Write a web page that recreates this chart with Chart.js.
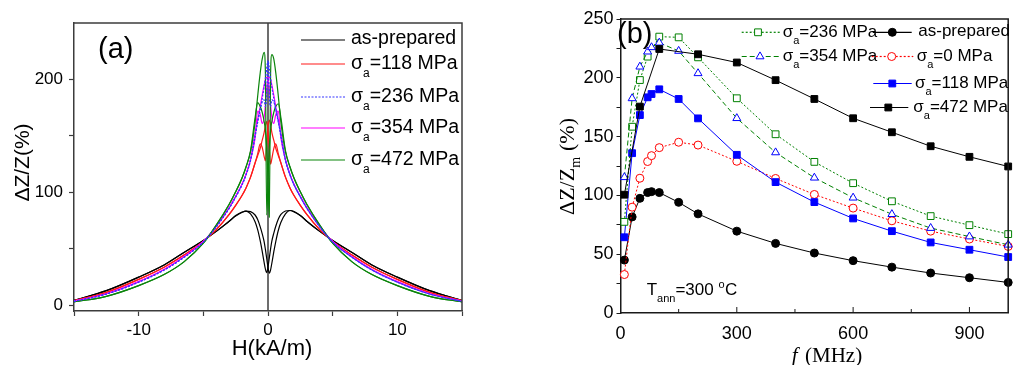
<!DOCTYPE html>
<html>
<head>
<meta charset="utf-8">
<title>GMI ratio</title>
<script src="https://cdn.jsdelivr.net/npm/chart.js@4.4.1/dist/chart.umd.min.js"></script>
<style>
  html, body { margin: 0; padding: 0; background: #fff; }
  #wrap { position: relative; width: 1014px; height: 365px; overflow: hidden; }
  #chartA { position: absolute; left: 0; top: 0; }
  #chartB { position: absolute; left: 500px; top: 0; }
</style>
</head>
<body>
<div id="wrap">
  <canvas id="chartA" width="500" height="365"></canvas>
  <canvas id="chartB" width="514" height="365"></canvas>
</div>
<script>
/************** panel (a): ΔZ/Z vs H, two field sweeps per sample **************/

const fieldH = [-15, -12.5, -10, -8, -6.5, -5, -4, -3, -2.5, -2,
    -1.7, -1.35, -1, -0.8, -0.6, -0.45, -0.3, -0.2, -0.1, 0,
    0.1, 0.2, 0.3, 0.45, 0.6, 0.8, 1, 1.35, 1.7, 2,
    2.5, 3, 4, 5, 6.5, 8, 10, 12.5, 15];

const asPreparedFwd = [4.5, 13, 25, 36, 46.8, 57.5, 65.5, 74.5, 79, 82.5,
    83.5, 81, 74, 67, 57, 48, 38, 32, 29, 34,
    42, 50, 57, 64, 70, 76.5, 80.5, 83.5, 84, 83,
    79.5, 74.5, 65.5, 57.5, 46.8, 36, 25, 13, 4.5];
const asPreparedRev = [4.5, 13, 25, 36, 46.8, 57.5, 65.5, 74.5, 79.5, 82.5,
    83.5, 83, 80, 76, 69.5, 63.5, 56.5, 49.5, 41.5, 33.5,
    28.5, 31.5, 37.5, 47.5, 56.5, 66.5, 73.5, 81, 84, 83,
    79.5, 74.5, 65.5, 57.5, 46.8, 36, 25, 13, 4.5];

const sigma118Fwd = [4, 11.5, 23, 34, 44.5, 56.5, 67, 80.5, 88.5, 97.5,
    104, 113.5, 126, 134, 143, 140, 132, 128, 142, 158,
    164, 160, 153, 146, 139, 132.5, 126, 113.5, 104, 97.5,
    88.5, 80.5, 67, 56.5, 44.5, 34, 23, 11.5, 4];
const sigma118Rev = [4, 11.5, 23, 34, 44.5, 56.5, 67, 80.5, 88.5, 97.5,
    104, 113.5, 126, 132.5, 139, 146, 153, 159, 163, 155,
    138, 125, 130, 139, 143, 134, 126, 113.5, 104, 97.5,
    88.5, 80.5, 67, 56.5, 44.5, 34, 23, 11.5, 4];

const sigma236Fwd = [3.5, 10, 20.5, 31.5, 42.5, 56, 69.5, 86, 96, 107,
    115.5, 128.5, 149, 163, 174, 180, 182, 176, 185, 217,
    210, 201, 193, 183, 173, 162, 151, 128.5, 115.5, 107,
    96, 86, 69.5, 56, 42.5, 31.5, 20.5, 10, 3.5];
const sigma236Rev = [3.5, 10, 20.5, 31.5, 42.5, 56, 69.5, 86, 96, 107,
    115.5, 128.5, 151, 162, 173, 183, 193, 201, 210, 216,
    185, 176, 182, 180, 174, 163, 149, 128.5, 115.5, 107,
    96, 86, 69.5, 56, 42.5, 31.5, 20.5, 10, 3.5];

const sigma354Fwd = [3.8, 10.3, 21, 32, 43, 56.5, 70, 86.5, 96.5, 107.5,
    116, 129, 148, 172, 169, 161, 166, 178, 192, 200,
    202, 200, 195, 186, 176, 164, 152, 129, 116, 107.5,
    96.5, 86.5, 70, 56.5, 43, 32, 21, 10.3, 3.8];
const sigma354Rev = [3.8, 10.3, 21, 32, 43, 56.5, 70, 86.5, 96.5, 107.5,
    116, 129, 152, 164, 176, 186, 195, 200, 202, 200,
    192, 178, 166, 161, 169, 172, 148, 129, 116, 107.5,
    96.5, 86.5, 70, 56.5, 43, 32, 21, 10.3, 3.8];

const sigma472Fwd = [3, 8, 17.5, 27.5, 38.5, 55, 71, 89.5, 100.5, 113,
    122.5, 136, 162, 185, 206, 218, 224, 205, 80, 110,
    140, 155, 163, 171, 176, 178.5, 166, 137, 122.5, 113,
    100.5, 89.5, 71, 55, 38.5, 27.5, 17.5, 8, 3];
const sigma472Rev = [3, 8, 17.5, 27.5, 38.5, 55, 71, 89.5, 100.5, 113,
    122.5, 137, 166, 179.5, 176, 171, 163, 155, 140, 110,
    78, 205, 222, 218, 206, 185, 162, 136, 122.5, 113,
    100.5, 89.5, 71, 55, 38.5, 27.5, 17.5, 8, 3];

const tickAX = [-15, -10, -5, 0, 5, 10, 15];
const labelAX = [-10, 0, 10];
const tickAY = [0, 50, 100, 150, 200];
const labelAY = [0, 100, 200];

/************** panel (b): ΔZ/Zm vs f at Tann = 300 °C **************/

const freqMHz = [10, 30, 50, 70, 80, 100, 150, 200, 300, 400, 500, 600, 700, 800, 900, 1000];
const gmiAsPrepared = [45, 81.7, 97.5, 102.4, 103.2, 102.4, 94.1, 84.3, 69.6, 59.2, 51, 44.5, 39, 34, 30, 26];
const gmiSigma0 = [32.7, 90, 114.6, 128.8, 133.8, 140.6, 145.2, 142.8, 129, 114.4, 100.8, 89.2, 78.4, 69.6, 62.9, 56.6];
const gmiSigma118 = [64.4, 135.9, 168.3, 183.4, 186.2, 190.2, 182, 165.5, 134.5, 111.3, 94.3, 80.4, 69.6, 60, 53.8, 47.6];
const gmiSigma236 = [77.5, 158.4, 198.1, 218, null, 235, 234.4, 217.4, 182.6, 152, 128.5, 110.4, 95, 82.4, 74.7, 67.1];
const gmiSigma354 = [115.4, 182.5, 209.4, 222.2, 225.9, 229.8, 222.8, 203.8, 165.6, 136.5, 115, 98, 84, 72.2, 65, 58];
const gmiSigma472 = [100.6, null, 175.5, null, null, 224.5, null, 220, 213, 198, 182, 165.6, 153.7, 141.8, 132.8, 124.6];

const tickBX = [0, 150, 300, 450, 600, 750, 900];
const labelBX = [0, 300, 600, 900];
const tickBY = [0, 25, 50, 75, 100, 125, 150, 175, 200, 225, 250];
const labelBY = [0, 50, 100, 150, 200, 250];

const SANS = '"Liberation Sans", Arial, sans-serif';
const SERIF = '"Liberation Serif", "Times New Roman", serif';
const FRAME = '#3c3c3c';

// σ with subscript a, then the rest of the label
function sigmaLabel(ctx, x, y, size, rest)
{
    ctx.textAlign = 'left';
    ctx.textBaseline = 'middle';
    ctx.font = size + 'px ' + SANS;
    ctx.fillText('σ', x, y);
    const w1 = ctx.measureText('σ').width;
    ctx.font = Math.round(size * 0.62) + 'px ' + SANS;
    ctx.fillText('a', x + w1, y + size * 0.52);
    const w2 = ctx.measureText('a').width;
    ctx.font = size + 'px ' + SANS;
    ctx.fillText(rest, x + w1 + w2, y);
}

function legendLine(ctx, x1, x2, y, color, dash)
{
    ctx.save();
    ctx.strokeStyle = color;
    ctx.lineWidth = 1.2;
    ctx.setLineDash(dash);
    ctx.beginPath();
    ctx.moveTo(x1, y);
    ctx.lineTo(x2, y);
    ctx.stroke();
    ctx.restore();
}

function legendMarker(ctx, style, x, y, r, stroke, fill)
{
    ctx.save();
    ctx.beginPath();
    if (style === 'circle')
    {
        ctx.arc(x, y, r, 0, Math.PI * 2);
    } else if (style === 'rect')
    {
        const s = r * Math.SQRT1_2;
        ctx.rect(x - s, y - s, 2 * s, 2 * s);
    } else
    {
        for (let k = 0; k < 3; k++)
        {
            const ang = k * 2 * Math.PI / 3;
            const px = x + Math.sin(ang) * r, py = y - Math.cos(ang) * r;
            if (k === 0) ctx.moveTo(px, py); else ctx.lineTo(px, py);
        }
        ctx.closePath();
    }
    ctx.fillStyle = fill;
    ctx.fill();
    ctx.strokeStyle = stroke;
    ctx.lineWidth = 1;
    ctx.stroke();
    ctx.restore();
}

/************** chart (a) **************/

const sweepsA = [
    { stress: 236, fwd: sigma236Fwd, rev: sigma236Rev, color: '#3636ff', dash: [2, 1.5] },
    { stress: 472, fwd: sigma472Fwd, rev: sigma472Rev, color: '#0b850b', dash: [] },
    { stress: 354, fwd: sigma354Fwd, rev: sigma354Rev, color: '#ff00ff', dash: [] },
    { stress: 118, fwd: sigma118Fwd, rev: sigma118Rev, color: '#ff1a1a', dash: [] },
    { stress: null, fwd: asPreparedFwd, rev: asPreparedRev, color: '#000000', dash: [] }
];
const legendOrderA = [null, 118, 236, 354, 472];

const datasetsA = [];
sweepsA.forEach(s =>
{
    [s.fwd, s.rev].forEach(vals =>
    {
        datasetsA.push({
            data: vals.map((v, i) => ({ x: fieldH[i], y: v })),
            borderColor: s.color,
            borderWidth: 1.2,
            borderDash: s.dash,
            pointRadius: 0,
            fill: false,
            cubicInterpolationMode: 'monotone'
        });
    });
});

const decorA = {
    id: 'decorA',
    beforeDatasetsDraw(chart)
    {
        const { ctx, chartArea: a, scales: { x } } = chart;
        const x0 = x.getPixelForValue(0);
        ctx.save();
        ctx.strokeStyle = FRAME;
        ctx.lineWidth = 1.5;
        ctx.beginPath();
        ctx.moveTo(x0, a.top);
        ctx.lineTo(x0, a.bottom);
        ctx.stroke();
        ctx.restore();
    },
    afterDraw(chart)
    {
        const { ctx, chartArea: a } = chart;
        ctx.save();
        // top and right edges of the box
        ctx.strokeStyle = FRAME;
        ctx.lineWidth = 1.5;
        ctx.beginPath();
        ctx.moveTo(a.left, a.top);
        ctx.lineTo(a.right, a.top);
        ctx.lineTo(a.right, a.bottom);
        ctx.stroke();

        ctx.fillStyle = '#000';
        // panel tag
        ctx.font = '29px ' + SANS;
        ctx.textAlign = 'left';
        ctx.textBaseline = 'alphabetic';
        ctx.fillText('(a)', 98, 57.5);

        // legend
        const rows = [40, 64, 97, 128, 160];
        legendOrderA.forEach((stress, i) =>
        {
            const s = sweepsA.find(q => q.stress === stress);
            legendLine(ctx, 301, 345, rows[i], s.color, s.dash);
            ctx.fillStyle = '#000';
            if (stress === null)
            {
                ctx.font = '19.5px ' + SANS;
                ctx.textAlign = 'left';
                ctx.textBaseline = 'middle';
                ctx.fillText('as-prepared', 351, rows[i] - 1);
            } else
            {
                sigmaLabel(ctx, 351, rows[i], 19.5, '=' + stress + ' MPa');
            }
        });

        // axis titles
        ctx.font = '22px ' + SANS;
        ctx.textAlign = 'center';
        ctx.textBaseline = 'alphabetic';
        ctx.fillText('H(kA/m)', 272, 355);

        ctx.save();
        ctx.translate(23, 162.5);
        ctx.rotate(-Math.PI / 2);
        ctx.font = '21px ' + SANS;
        ctx.textBaseline = 'middle';
        ctx.fillText('ΔZ/Z(%)', 0, 0);
        ctx.restore();

        ctx.restore();
    }
};

new Chart(document.getElementById('chartA'), {
    type: 'line',
    data: { datasets: datasetsA },
    options: {
        responsive: false,
        animation: false,
        events: [],
        layout: { padding: { top: 23, right: 38, left: 0, bottom: 0 } },
        plugins: { legend: { display: false }, tooltip: { enabled: false } },
        scales: {
            x: {
                type: 'linear', min: -15, max: 15,
                afterBuildTicks: s => { s.ticks = tickAX.map(v => ({ value: v })); },
                afterFit: s => { s.height = 54; },
                ticks: {
                    autoSkip: false, maxRotation: 0, padding: 4, color: '#000',
                    font: { family: SANS, size: 17 },
                    callback: v => (labelAX.includes(v) ? String(v) : '')
                },
                grid: { drawOnChartArea: false, tickLength: 5, tickColor: FRAME, tickWidth: 1.2 },
                border: { color: FRAME, width: 1.5 }
            },
            y: {
                type: 'linear', min: -5, max: 250,
                afterBuildTicks: s => { s.ticks = tickAY.map(v => ({ value: v })); },
                afterFit: s => { s.width = 74; },
                ticks: {
                    autoSkip: false, padding: 6, color: '#000',
                    font: { family: SANS, size: 17 },
                    callback: v => (labelAY.includes(v) ? String(v) : '')
                },
                grid: { drawOnChartArea: false, tickLength: 5, tickColor: FRAME, tickWidth: 1.2 },
                border: { color: FRAME, width: 1.5 }
            }
        }
    },
    plugins: [decorA]
});

/************** chart (b) **************/

const seriesB = [
    { key: 472, vals: gmiSigma472, color: '#000000', dash: [], point: 'rect', r: 4.8, fill: '#000000', pcolor: '#000000' },
    { key: 354, vals: gmiSigma354, color: '#008000', dash: [5, 3], point: 'triangle', r: 4.6, fill: '#ffffff', pcolor: '#0000ff' },
    { key: 236, vals: gmiSigma236, color: '#008000', dash: [2, 2], point: 'rect', r: 4.8, fill: '#ffffff', pcolor: '#008000' },
    { key: 118, vals: gmiSigma118, color: '#0000ff', dash: [], point: 'rect', r: 4.8, fill: '#0000ff', pcolor: '#0000ff' },
    { key: 0, vals: gmiSigma0, color: '#ff0000', dash: [2, 2], point: 'circle', r: 4, fill: '#ffffff', pcolor: '#ff0000' },
    { key: 'as', vals: gmiAsPrepared, color: '#000000', dash: [], point: 'circle', r: 4, fill: '#000000', pcolor: '#000000' }
];

const datasetsB = seriesB.map(s => ({
    data: s.vals.map((v, i) => ({ x: freqMHz[i], y: v })),
    borderColor: s.color,
    borderWidth: 1,
    borderDash: s.dash,
    spanGaps: true,
    tension: 0,
    pointStyle: s.point,
    pointRadius: s.r,
    pointBorderWidth: 1,
    pointBorderColor: s.pcolor,
    pointBackgroundColor: s.fill,
    clip: false
}));

const decorB = {
    id: 'decorB',
    afterDraw(chart)
    {
        const { ctx, chartArea: a, scales: { x } } = chart;
        const byKey = k => seriesB.find(s => s.key === k);
        ctx.save();
        ctx.strokeStyle = '#1a1a1a';
        ctx.lineWidth = 1.5;
        ctx.beginPath();
        ctx.moveTo(a.left, a.top);
        ctx.lineTo(a.right, a.top);
        ctx.lineTo(a.right, a.bottom);
        ctx.stroke();

        // inward ticks along the frequency axis
        ctx.lineWidth = 1;
        tickBX.forEach(v =>
        {
            const px = x.getPixelForValue(v);
            const len = labelBX.includes(v) ? 6 : 4;
            ctx.beginPath();
            ctx.moveTo(px, a.bottom);
            ctx.lineTo(px, a.bottom - len);
            ctx.stroke();
        });

        ctx.fillStyle = '#000';
        ctx.font = '29px ' + SANS;
        ctx.textAlign = 'left';
        ctx.textBaseline = 'alphabetic';
        ctx.fillText('(b)', 117, 43);

        // legend, two columns
        const entries = [
            { key: 236, x1: 241.7, x2: 280, mx: 258, tx: 282.7, y: 32.3 },
            { key: 354, x1: 241.7, x2: 280, mx: 260, tx: 282.7, y: 56.5 },
            { key: 'as', x1: 372.7, x2: 411.7, mx: 392.3, tx: 418.3, y: 32.3 },
            { key: 0, x1: 371.7, x2: 413.3, mx: 391.7, tx: 416.7, y: 56.5 },
            { key: 118, x1: 373.3, x2: 411.7, mx: 392.3, tx: 415, y: 83.5 },
            { key: 472, x1: 370, x2: 408.3, mx: 388.3, tx: 413.3, y: 107.5 }
        ];
        entries.forEach(e =>
        {
            const s = byKey(e.key);
            legendLine(ctx, e.x1, e.x2, e.y, s.color, s.dash);
            legendMarker(ctx, s.point, e.mx, e.y, s.r, s.pcolor, s.fill);
            ctx.fillStyle = '#000';
            if (e.key === 'as')
            {
                ctx.font = '17px ' + SANS;
                ctx.textAlign = 'left';
                ctx.textBaseline = 'middle';
                ctx.fillText('as-prepared', e.tx, e.y - 1);
            } else
            {
                sigmaLabel(ctx, e.tx, e.y, 17, '=' + e.key + ' MPa');
            }
        });

        // annealing temperature note
        let tx = 146.7;
        const base = 295;
        ctx.textAlign = 'left';
        ctx.textBaseline = 'alphabetic';
        ctx.font = '17px ' + SANS;
        ctx.fillText('T', tx, base);
        tx += ctx.measureText('T').width;
        ctx.font = '11px ' + SANS;
        ctx.fillText('ann', tx, base + 7);
        tx += ctx.measureText('ann').width;
        ctx.font = '17px ' + SANS;
        ctx.fillText('=300 ', tx, base);
        tx += ctx.measureText('=300 ').width;
        ctx.font = '11px ' + SANS;
        ctx.fillText('o', tx, base - 7);
        tx += ctx.measureText('o').width + 0.5;
        ctx.font = '17px ' + SANS;
        ctx.fillText('C', tx, base);

        // axis titles
        ctx.font = 'italic 21px ' + SERIF;
        ctx.fillText('f', 291.7, 361.5);
        ctx.font = '21px ' + SERIF;
        ctx.fillText('(MHz)', 305, 361.5);

        ctx.save();
        ctx.translate(68, 215);
        ctx.rotate(-Math.PI / 2);
        ctx.textAlign = 'left';
        ctx.textBaseline = 'middle';
        ctx.font = '22px ' + SERIF;
        ctx.fillText('ΔZ/Z', 0, 0);
        let w = ctx.measureText('ΔZ/Z').width;
        ctx.font = '14px ' + SERIF;
        ctx.fillText('m', w, 8);
        w += ctx.measureText('m').width + 6;
        ctx.font = '22px ' + SERIF;
        ctx.fillText('(%)', w, 0);
        ctx.restore();

        ctx.restore();
    }
};

new Chart(document.getElementById('chartB'), {
    type: 'line',
    data: { datasets: datasetsB },
    options: {
        responsive: false,
        animation: false,
        events: [],
        layout: { padding: { top: 19, right: 2, left: 0, bottom: 0 } },
        plugins: { legend: { display: false }, tooltip: { enabled: false } },
        scales: {
            x: {
                type: 'linear', min: 0, max: 1000,
                afterBuildTicks: s => { s.ticks = tickBX.map(v => ({ value: v })); },
                afterFit: s => { s.height = 52; },
                ticks: {
                    autoSkip: false, maxRotation: 0, padding: 10, color: '#000',
                    font: { family: SANS, size: 18 },
                    callback: v => (labelBX.includes(v) ? String(v) : '')
                },
                grid: { drawOnChartArea: false, drawTicks: false },
                border: { color: '#1a1a1a', width: 1.5 }
            },
            y: {
                type: 'linear', min: 0, max: 250,
                afterBuildTicks: s => { s.ticks = tickBY.map(v => ({ value: v })); },
                afterFit: s => { s.width = 120.5; },
                ticks: {
                    autoSkip: false, padding: 3, color: '#000',
                    font: { family: SANS, size: 18 },
                    callback: v => (labelBY.includes(v) ? String(v) : '')
                },
                grid: { drawOnChartArea: false, tickLength: 4, tickColor: '#1a1a1a', tickWidth: 1 },
                border: { color: '#1a1a1a', width: 1.5 }
            }
        }
    },
    plugins: [decorB]
});
</script>
</body>
</html>
